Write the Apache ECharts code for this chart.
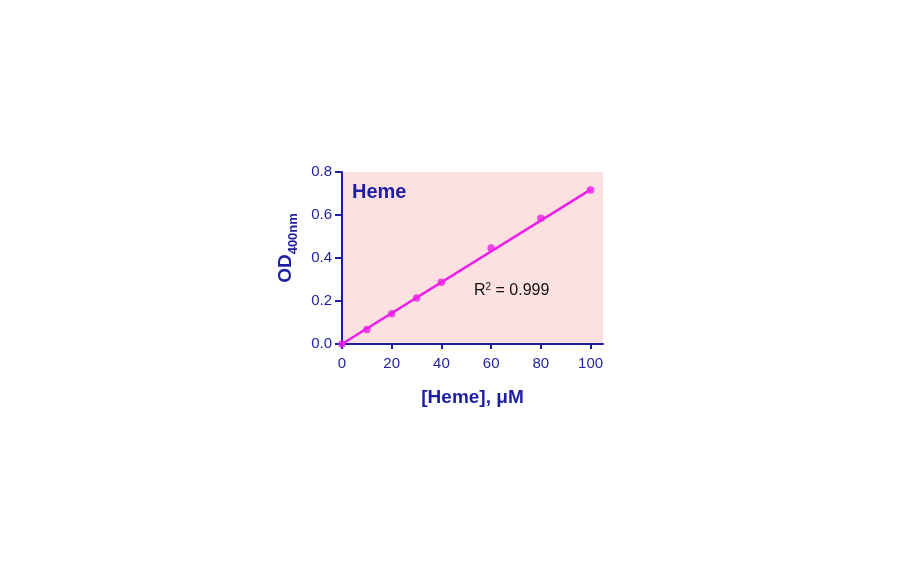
<!DOCTYPE html>
<html><head><meta charset="utf-8">
<script src="https://cdn.jsdelivr.net/npm/echarts@6/dist/echarts.min.js"></script>
<style>html,body{margin:0;padding:0;background:#fff}#c{width:912px;height:562px}</style>
</head><body><div id="c"></div>
<script>
const concentrations = [0, 10, 20, 30, 40, 60, 80, 100];
const odValues = [0.000, 0.068, 0.141, 0.214, 0.287, 0.446, 0.585, 0.716];
const fitX = [0, 100];
const fitY = [0.000, 0.718];
const xTicks = [0, 20, 40, 60, 80, 100];
const yTicks = ['0.0', '0.2', '0.4', '0.6', '0.8'];

const navy = '#1e1ea2';
const magenta = '#ee1ee8';
const chart = echarts.init(document.getElementById('c'));
chart.setOption({
  backgroundColor: '#fff',
  animation: false,
  grid: { left: 342, top: 172, width: 261, height: 172, show: true, backgroundColor: '#fde0e0', borderWidth: 0 },
  xAxis: {
    type: 'value', min: 0, max: 105, interval: 20,
    axisLine: { show: true, lineStyle: { color: navy, width: 2 } },
    axisTick: { show: true, length: 5, customValues: xTicks, lineStyle: { color: navy, width: 2 } },
    axisLabel: { color: navy, fontFamily: 'Liberation Sans, Arial', fontSize: 15, margin: 12, customValues: xTicks,
      formatter: v => String(v) },
    splitLine: { show: false },
    name: '[Heme], μM', nameLocation: 'middle', nameGap: 44,
    nameTextStyle: { color: navy, fontFamily: 'Liberation Sans, Arial', fontSize: 19, fontWeight: 'bold' }
  },
  yAxis: {
    type: 'value', min: 0, max: 0.8, interval: 0.2,
    axisLine: { show: true, lineStyle: { color: navy, width: 2 } },
    axisTick: { show: true, length: 7, lineStyle: { color: navy, width: 2 } },
    axisLabel: { color: navy, fontFamily: 'Liberation Sans, Arial', fontSize: 15, margin: 10,
      formatter: v => yTicks[Math.round(v / 0.2)] },
    splitLine: { show: false }
  },
  series: [
    {
      type: 'line', data: fitX.map((x, i) => [x, fitY[i]]), showSymbol: false,
      lineStyle: { color: magenta, width: 2.5 }, z: 2
    },
    {
      type: 'scatter', data: concentrations.map((x, i) => [x, odValues[i]]),
      symbol: 'circle', symbolSize: 7.5, itemStyle: { color: magenta }, z: 3
    }
  ],
  graphic: [
    { type: 'text', left: 352, top: 182, style: { text: 'Heme', fill: navy, font: 'bold 20px "Liberation Sans", Arial' } },
    { type: 'text', x: 286, y: 248, rotation: Math.PI / 2, style: {
        text: '{a|OD}{b|400nm}', align: 'center', verticalAlign: 'middle',
        rich: {
          a: { fill: navy, font: 'bold 19px "Liberation Sans", Arial', verticalAlign: 'bottom' },
          b: { fill: navy, font: 'bold 13px "Liberation Sans", Arial', verticalAlign: 'bottom', padding: [0, 0, -4, 0] }
        }
    } },
    { type: 'text', left: 474, top: 282, style: {
        text: '{r|R}{s|2}{r| = 0.999}',
        rich: {
          r: { fill: '#111', font: '16px "Liberation Sans", Arial', verticalAlign: 'bottom' },
          s: { fill: '#111', font: '10px "Liberation Sans", Arial', verticalAlign: 'top', padding: [0, 0, 7, 0] }
        }
    } }
  ]
});
</script></body></html>
